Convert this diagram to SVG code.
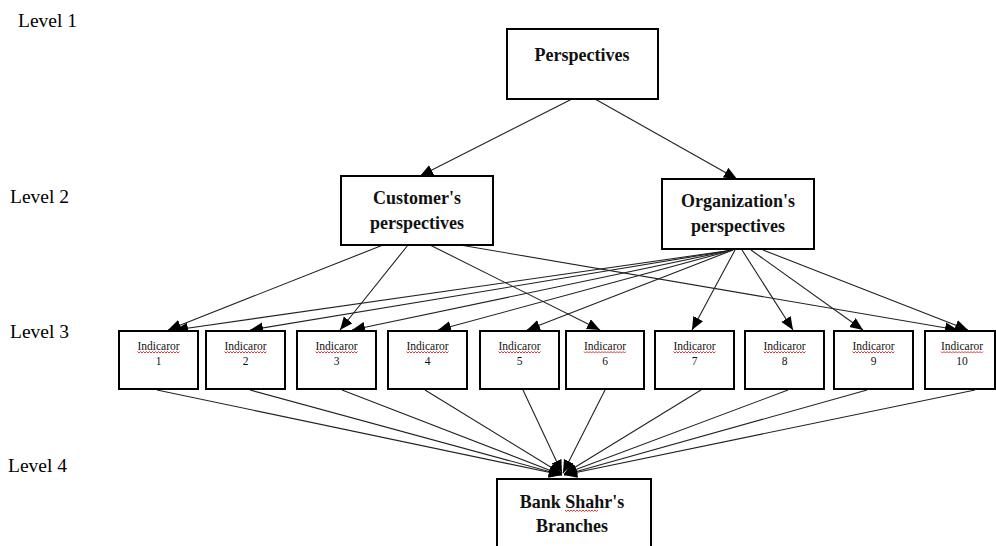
<svg xmlns="http://www.w3.org/2000/svg" width="996" height="546" viewBox="0 0 996 546">
<style>
.box{fill:#fff;stroke:#000;stroke-width:2}
.lvl{font-family:"Liberation Serif","Times New Roman",serif;font-size:19.5px;fill:#000}
.ttl{font-family:"Liberation Serif","Times New Roman",serif;font-size:18px;font-weight:bold;fill:#111;text-anchor:middle}
.ind{font-family:"Liberation Serif","Times New Roman",serif;font-size:11.5px;fill:#111;text-anchor:middle}
.cn line{stroke:#222;stroke-width:1.1;marker-end:url(#ah)}
.sq{fill:none;stroke:#e02020;stroke-width:0.9}
</style>
<defs>
<marker id="ah" markerUnits="userSpaceOnUse" markerWidth="14" markerHeight="12" refX="13" refY="5.5" orient="auto">
<path d="M0,0 L13,5.5 L0,11 z" fill="#000"/>
</marker>
<path id="sq42" class="sq" d="M0,0 l1.5,1.5 l1.5,-1.5 l1.5,1.5 l1.5,-1.5 l1.5,1.5 l1.5,-1.5 l1.5,1.5 l1.5,-1.5 l1.5,1.5 l1.5,-1.5 l1.5,1.5 l1.5,-1.5 l1.5,1.5 l1.5,-1.5 l1.5,1.5 l1.5,-1.5 l1.5,1.5 l1.5,-1.5 l1.5,1.5 l1.5,-1.5 l1.5,1.5 l1.5,-1.5 l1.5,1.5 l1.5,-1.5 l1.5,1.5 l1.5,-1.5 l1.5,1.5 l1.5,-1.5"/>
</defs>

<g id="levels">
<text class="lvl" x="18" y="27">Level 1</text>
<text class="lvl" x="10" y="203">Level 2</text>
<text class="lvl" x="10" y="338">Level 3</text>
<text class="lvl" x="8" y="472">Level 4</text>
</g>

<g id="connectors" class="cn">
<line x1="572" y1="99" x2="420" y2="176"/>
<line x1="595" y1="99" x2="737" y2="179"/>
<line x1="383" y1="245" x2="168" y2="330"/>
<line x1="408" y1="245" x2="340" y2="330"/>
<line x1="430" y1="245" x2="600" y2="330"/>
<line x1="460" y1="245" x2="958" y2="330"/>
<line x1="733" y1="250" x2="175" y2="330"/>
<line x1="733" y1="250" x2="250" y2="330"/>
<line x1="733" y1="250" x2="352" y2="330"/>
<line x1="733" y1="250" x2="438" y2="330"/>
<line x1="733" y1="250" x2="527" y2="330"/>
<line x1="735" y1="250" x2="692" y2="330"/>
<line x1="742" y1="250" x2="793" y2="330"/>
<line x1="751" y1="250" x2="863" y2="330"/>
<line x1="763" y1="250" x2="968" y2="330"/>
<line x1="157" y1="390" x2="562" y2="475"/>
<line x1="250" y1="390" x2="562" y2="475"/>
<line x1="342" y1="390" x2="562" y2="475"/>
<line x1="425" y1="390" x2="562" y2="474"/>
<line x1="523" y1="390" x2="562" y2="473"/>
<line x1="605" y1="390" x2="563" y2="473"/>
<line x1="701" y1="390" x2="564" y2="474"/>
<line x1="788" y1="390" x2="564" y2="474"/>
<line x1="867" y1="390" x2="564" y2="475"/>
<line x1="975" y1="390" x2="564" y2="475"/>
</g>

<g id="perspectives">
<rect class="box" x="507" y="29" width="151" height="70"/>
<text class="ttl" x="582" y="61">Perspectives</text>
</g>
<g id="customers">
<rect class="box" x="341" y="176" width="152" height="69"/>
<text class="ttl" x="417" y="204">Customer's</text>
<text class="ttl" x="417" y="229">perspectives</text>
</g>
<g id="organizations">
<rect class="box" x="662" y="179" width="152" height="70"/>
<text class="ttl" x="738" y="207">Organization's</text>
<text class="ttl" x="738" y="232">perspectives</text>
</g>

<g id="ind1"><rect class="box" x="119" y="331" width="79" height="58"/><text class="ind" x="158.5" y="350">Indicaror</text><text class="ind" x="158.5" y="365">1</text><use href="#sq42" x="137.5" y="351.5"/></g>
<g id="ind2"><rect class="box" x="206" y="331" width="79" height="58"/><text class="ind" x="245.5" y="350">Indicaror</text><text class="ind" x="245.5" y="365">2</text><use href="#sq42" x="224.5" y="351.5"/></g>
<g id="ind3"><rect class="box" x="297" y="331" width="79" height="58"/><text class="ind" x="336.5" y="350">Indicaror</text><text class="ind" x="336.5" y="365">3</text><use href="#sq42" x="315.5" y="351.5"/></g>
<g id="ind4"><rect class="box" x="388" y="331" width="79" height="58"/><text class="ind" x="427.5" y="350">Indicaror</text><text class="ind" x="427.5" y="365">4</text><use href="#sq42" x="406.5" y="351.5"/></g>
<g id="ind5"><rect class="box" x="480" y="331" width="79" height="58"/><text class="ind" x="519.5" y="350">Indicaror</text><text class="ind" x="519.5" y="365">5</text><use href="#sq42" x="498.5" y="351.5"/></g>
<g id="ind6"><rect class="box" x="566" y="331" width="78" height="58"/><text class="ind" x="605" y="350">Indicaror</text><text class="ind" x="605" y="365">6</text><use href="#sq42" x="584" y="351.5"/></g>
<g id="ind7"><rect class="box" x="655" y="331" width="79" height="58"/><text class="ind" x="694.5" y="350">Indicaror</text><text class="ind" x="694.5" y="365">7</text><use href="#sq42" x="673.5" y="351.5"/></g>
<g id="ind8"><rect class="box" x="745" y="331" width="79" height="58"/><text class="ind" x="784.5" y="350">Indicaror</text><text class="ind" x="784.5" y="365">8</text><use href="#sq42" x="763.5" y="351.5"/></g>
<g id="ind9"><rect class="box" x="834" y="331" width="79" height="58"/><text class="ind" x="873.5" y="350">Indicaror</text><text class="ind" x="873.5" y="365">9</text><use href="#sq42" x="852.5" y="351.5"/></g>
<g id="ind10"><rect class="box" x="925" y="331" width="70" height="58"/><text class="ind" x="962" y="350">Indicaror</text><text class="ind" x="962" y="365">10</text><use href="#sq42" x="941" y="351.5"/></g>

<g id="bank">
<rect class="box" x="497" y="479" width="154" height="80"/>
<text class="ttl" x="572" y="508">Bank Shahr's</text>
<text class="ttl" x="572" y="532">Branches</text>
<path class="sq" d="M565,510 l1.5,1.5 l1.5,-1.5 l1.5,1.5 l1.5,-1.5 l1.5,1.5 l1.5,-1.5 l1.5,1.5 l1.5,-1.5 l1.5,1.5 l1.5,-1.5 l1.5,1.5 l1.5,-1.5 l1.5,1.5 l1.5,-1.5 l1.5,1.5 l1.5,-1.5 l1.5,1.5 l1.5,-1.5 l1.5,1.5 l1.5,-1.5 l1.5,1.5 l1.5,-1.5"/>
</g>
</svg>
